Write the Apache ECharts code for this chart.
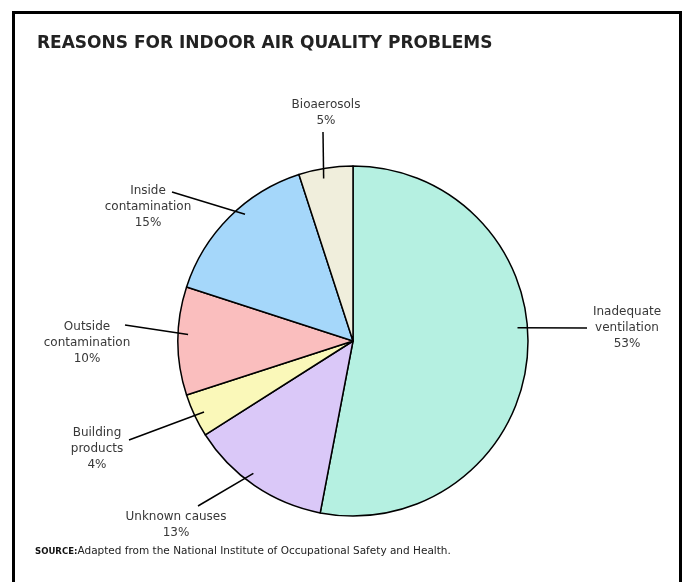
<!DOCTYPE html>
<html>
<head>
<meta charset="utf-8">
<script src="https://cdn.jsdelivr.net/npm/echarts@6/dist/echarts.min.js"></script>
<style>
  html, body { margin: 0; padding: 0; background: #fff; }
  #grafico { width: 684px; height: 582px; }
</style>
</head>
<body>
<div id="grafico"></div>
<script>
// datos: porcentajes de cada causa, en sentido horario desde las 12
const categorias = ['Inadequate\nventilation', 'Unknown causes', 'Building\nproducts', 'Outside\ncontamination', 'Inside\ncontamination', 'Bioaerosols']
const porcentajes = [53, 13, 4, 10, 15, 5]

const colores = ['#b5f0e1', '#dac8f8', '#faf8b9', '#fabebe', '#a5d7fa', '#f0eedc']

// geometria de la tarta
const CX = 353
const CY = 341
const R = 175

// donde va cada etiqueta y el extremo de su linea (giro = ajuste del angulo en grados)
const posEtiquetas = [
  { x: 627, y: 328, finX: 587, finY: 328, giro: -9.7 },
  { x: 176, y: 525, finX: 198, finY: 506, giro: 4 },
  { x: 97, y: 449, finX: 129, finY: 440, giro: 0 },
  { x: 87, y: 343, finX: 125, finY: 325, giro: 2.6 },
  { x: 148, y: 207, finX: 172, finY: 192, giro: 2.8 },
  { x: 326, y: 113, finX: 323, finY: 132, giro: -0.7 }
]

const total = porcentajes.reduce((a, b) => a + b, 0)
let acumulado = 0
const angulosMedios = porcentajes.map(v => {
  const m = (acumulado + v / 2) / total * 360
  acumulado += v
  return m
})

const datosTarta = categorias.map((nombre, i) => ({ name: nombre, value: porcentajes[i] }))

const miGrafico = echarts.init(document.getElementById('grafico'))

const opciones = {
  animation: false,
  title: {
    text: 'REASONS FOR INDOOR AIR QUALITY PROBLEMS',
    left: 37,
    top: 35,
    padding: 0,
    textStyle: {
      fontFamily: 'DejaVu Sans',
      fontWeight: 'bold',
      fontSize: 17,
      color: '#222'
    }
  },
  graphic: [
    {
      type: 'rect',
      shape: { x: 13.5, y: 12.5, width: 667, height: 620 },
      style: { fill: 'none', stroke: '#000', lineWidth: 3 },
      silent: true
    },
    {
      type: 'text',
      left: 35,
      top: 546,
      style: {
        text: '{b|SOURCE:}{n|Adapted from the National Institute of Occupational Safety and Health.}',
        rich: {
          b: { fontFamily: 'DejaVu Sans Condensed', fontWeight: 'bold', fontSize: 9.5, fill: '#111' },
          n: { fontFamily: 'DejaVu Sans', fontSize: 10.5, fill: '#222' }
        }
      }
    }
  ],
  series: [
    {
      // los sectores
      type: 'pie',
      center: [CX, CY],
      radius: R,
      startAngle: 90,
      clockwise: true,
      silent: true,
      data: datosTarta.map((d, i) => ({ ...d, itemStyle: { color: colores[i] } })),
      itemStyle: { borderColor: '#000', borderWidth: 1.5 },
      label: { show: false },
      labelLine: { show: false }
    },
    {
      // misma tarta transparente encima, solo para etiquetas y lineas
      type: 'pie',
      z: 3,
      center: [CX, CY],
      radius: R,
      startAngle: 90,
      clockwise: true,
      silent: true,
      avoidLabelOverlap: false,
      data: datosTarta,
      itemStyle: { color: 'rgba(0,0,0,0)', borderWidth: 0 },
      label: {
        show: true,
        formatter: '{b}\n{c}%',
        fontFamily: 'DejaVu Sans',
        fontSize: 12,
        lineHeight: 16,
        color: '#383838',
        align: 'center'
      },
      labelLine: {
        show: true,
        length: 20,
        length2: 20,
        lineStyle: { color: '#000', width: 1.5 }
      },
      labelLayout: params => {
        const e = posEtiquetas[params.dataIndex]
        const ang = (angulosMedios[params.dataIndex] + e.giro) * Math.PI / 180
        const bx = CX + R * Math.sin(ang)
        const by = CY - R * Math.cos(ang)
        const dx = bx - e.finX
        const dy = by - e.finY
        const d = Math.hypot(dx, dy)
        return {
          x: e.x,
          y: e.y,
          align: 'center',
          verticalAlign: 'middle',
          labelLinePoints: [[e.finX, e.finY], [bx + dx / d * 10, by + dy / d * 10]]
        }
      }
    }
  ]
}

miGrafico.setOption(opciones)
</script>
</body>
</html>
